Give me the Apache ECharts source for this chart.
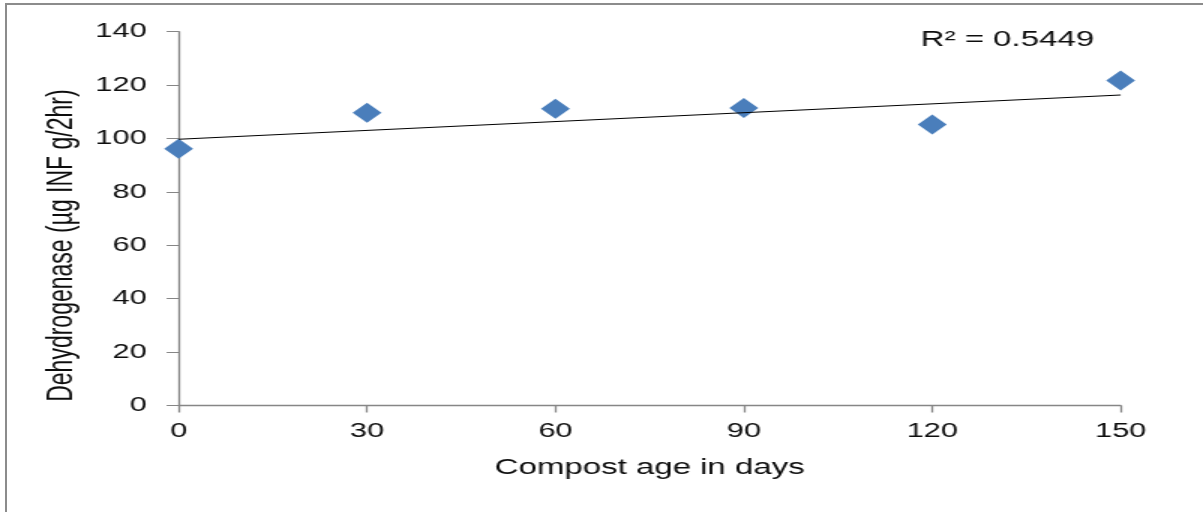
<!DOCTYPE html>
<html>
<head>
<meta charset="utf-8">
<script src="https://cdn.jsdelivr.net/npm/echarts@6/dist/echarts.min.js"></script>
<style>
  html, body { margin: 0; padding: 0; background: #fff; overflow: hidden; width: 1203px; height: 512px; }
  #frame { position: absolute; left: 5px; top: 3px; width: 1400px; height: 700px;
           border-left: 2px solid #8c8c8c; border-top: 2px solid #8c8c8c; }
  /* the chart is laid out narrow and stretched sideways */
  #chart { position: absolute; left: 0; top: 0; width: 802px; height: 512px;
           transform: scaleX(1.5); transform-origin: 0 0; }
</style>
</head>
<body>
<div id="frame"></div>
<div id="chart"></div>
<script>
// Compost age (days) and dehydrogenase activity
const days = [0, 30, 60, 90, 120, 150];
const activity = [96.2, 109.6, 111.1, 111.4, 105.2, 121.7];

// Linear trendline end points
const trendDays = [0, 150];
const trendValues = [99.7, 116.3];
const rSquaredText = 'R² = 0.5449';

// Axis ranges
const xRange = { min: 0, max: 150, step: 30 };
const yRange = { min: 0, max: 140, step: 20 };

const FONT = '"Liberation Sans", Arial, sans-serif';
const axisGray = '#868686';

const chart = echarts.init(document.getElementById('chart'), null, { renderer: 'canvas' });

chart.setOption({
  animation: false,
  backgroundColor: 'transparent',
  grid: { left: 119.1, right: 54.9, top: 31.7, bottom: 106.5, containLabel: false, outerBoundsMode: 'none' },
  xAxis: {
    type: 'value',
    min: xRange.min, max: xRange.max, interval: xRange.step,
    name: 'Compost age in days',
    nameLocation: 'middle',
    nameGap: 51,
    nameTextStyle: { fontFamily: FONT, fontSize: 22, color: '#0d0d0d' },
    axisLine: { show: true, lineStyle: { color: axisGray, width: 1.3 } },
    axisTick: { show: true, inside: false, length: 7, lineStyle: { color: axisGray, width: 1.3 } },
    axisLabel: { fontFamily: FONT, fontSize: 20.5, color: '#0d0d0d', margin: 15 },
    splitLine: { show: false }
  },
  yAxis: {
    type: 'value',
    min: yRange.min, max: yRange.max, interval: yRange.step,
    name: 'Dehydrogenase (µg INF g/2hr)',
    nameLocation: 'middle',
    nameGap: 66,
    nameTextStyle: { fontFamily: FONT, fontSize: 23, color: '#0d0d0d', padding: [0, 54, 0, 0] },
    axisLine: { show: true, lineStyle: { color: axisGray, width: 1.3 } },
    axisTick: { show: true, inside: false, length: 8, lineStyle: { color: axisGray, width: 1 } },
    axisLabel: { fontFamily: FONT, fontSize: 20.5, color: '#0d0d0d', margin: 21.3 },
    splitLine: { show: false }
  },
  graphic: [{
    type: 'text',
    left: 613.8,
    top: 29,
    style: { text: rSquaredText, font: '22px ' + FONT, fill: '#0d0d0d' }
  }],
  series: [
    {
      name: 'Linear trend',
      type: 'line',
      data: trendDays.map((d, i) => [d, trendValues[i]]),
      showSymbol: false,
      symbol: 'none',
      lineStyle: { color: '#000', width: 1.1 },
      z: 3
    },
    {
      name: 'Dehydrogenase',
      type: 'scatter',
      data: days.map((d, i) => [d, activity[i]]),
      symbol: 'diamond',
      symbolSize: [19.3, 20],
      itemStyle: { color: '#4a7ebb', opacity: 1 },
      z: 2
    }
  ]
});
</script>
</body>
</html>
